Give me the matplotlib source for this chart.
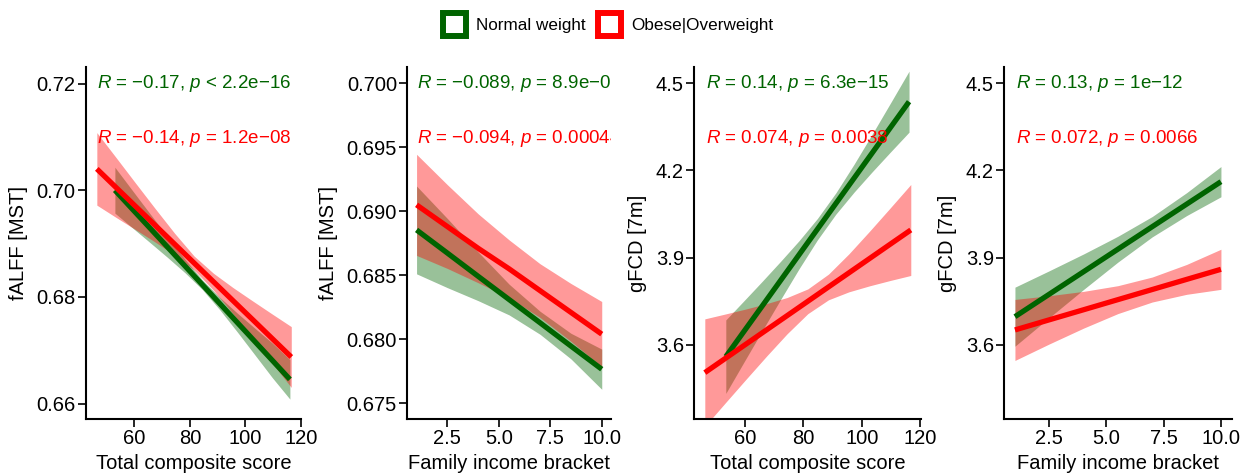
import matplotlib
matplotlib.use('Agg')
from matplotlib import pyplot as plt
from matplotlib.patches import Patch

plt.rcParams['font.family'] = ['Liberation Sans', 'DejaVu Sans']
plt.rcParams['mathtext.fontset'] = 'custom'
plt.rcParams['mathtext.rm'] = 'Liberation Sans'
plt.rcParams['mathtext.it'] = 'Liberation Sans:italic'

GREEN = '#006400'
RED = '#FF0000'

# panel 1: fALFF [MST] vs total composite score
p1_nw_x = [53.0, 59.3, 65.6, 71.9, 78.2, 84.5, 90.8, 97.1, 103.4, 109.7, 116.0]
p1_nw_fit = [0.7000, 0.69645, 0.69291, 0.68936, 0.68581, 0.68227, 0.67872, 0.67517, 0.67162, 0.66808, 0.66453]
p1_nw_lo = [0.6957, 0.69295, 0.6902, 0.68742, 0.68454, 0.68137, 0.67756, 0.6734, 0.66912, 0.66483, 0.66083]
p1_nw_hi = [0.7043, 0.69995, 0.69562, 0.6913, 0.68708, 0.68317, 0.67988, 0.67694, 0.67412, 0.67133, 0.66823]
p1_ob_x = [46.5, 53.5, 60.5, 67.5, 74.5, 81.5, 88.5, 95.5, 102.5, 109.5, 116.5]
p1_ob_fit = [0.7040, 0.70047, 0.69694, 0.69342, 0.68989, 0.68636, 0.68283, 0.6793, 0.67578, 0.67225, 0.66872]
p1_ob_lo = [0.6972, 0.69487, 0.69259, 0.69028, 0.68785, 0.68506, 0.68124, 0.67685, 0.67229, 0.66767, 0.66302]
p1_ob_hi = [0.7108, 0.70607, 0.70129, 0.69656, 0.69193, 0.68766, 0.68442, 0.68175, 0.67927, 0.67683, 0.67442]

# panel 2: fALFF [MST] vs family income bracket
p2_nw_x = [1.0, 2.5, 4.0, 5.5, 7.0, 8.5, 10.0]
p2_nw_fit = [0.68854, 0.68673, 0.68491, 0.68310, 0.68129, 0.67947, 0.67766]
p2_nw_lo = [0.68511, 0.68403, 0.68301, 0.68190, 0.68039, 0.67847, 0.67609]
p2_nw_hi = [0.69197, 0.68943, 0.68681, 0.68430, 0.68219, 0.68047, 0.67923]
p2_ob_x = [1.0, 2.5, 4.0, 5.5, 7.0, 8.5, 10.0]
p2_ob_fit = [0.6905, 0.6888, 0.6871, 0.6855, 0.6838, 0.6821, 0.6804]
p2_ob_lo = [0.68655, 0.68553, 0.68441, 0.68324, 0.68170, 0.67984, 0.67785]
p2_ob_hi = [0.69445, 0.69207, 0.68979, 0.68776, 0.68590, 0.68436, 0.68295]

# panel 3: gFCD [7m] vs total composite score
p3_nw_x = [53.4, 59.7, 65.96, 72.2, 78.5, 84.8, 91.1, 97.4, 103.6, 109.9, 116.2]
p3_nw_fit = [3.5595, 3.6475, 3.7349, 3.8221, 3.9101, 3.9981, 4.0861, 4.1741, 4.2607, 4.3487, 4.4367]
p3_nw_lo = [3.4332, 3.5423, 3.6502, 3.7565, 3.8618, 3.9613, 4.0495, 4.1260, 4.1958, 4.2643, 4.3318]
p3_nw_hi = [3.6858, 3.7527, 3.8196, 3.8877, 3.9584, 4.0349, 4.1227, 4.2222, 4.3256, 4.4331, 4.5416]
p3_ob_x = [46.2, 53.3, 60.3, 67.4, 74.4, 81.5, 88.6, 95.6, 102.7, 109.7, 116.8]
p3_ob_fit = [3.5045, 3.5539, 3.6025, 3.6519, 3.7005, 3.7499, 3.7993, 3.8479, 3.8973, 3.9460, 3.9953]
p3_ob_lo = [3.3195, 3.4014, 3.4815, 3.5617, 3.6381, 3.7073, 3.7551, 3.7825, 3.8032, 3.8214, 3.8388]
p3_ob_hi = [3.6895, 3.7064, 3.7235, 3.7421, 3.7629, 3.7925, 3.8435, 3.9133, 3.9914, 4.0706, 4.1518]

# panel 4: gFCD [7m] vs family income bracket
p4_nw_x = [1.0, 2.5, 4.0, 5.5, 7.0, 8.5, 10.0]
p4_nw_fit = [3.6970, 3.7744, 3.8518, 3.9293, 4.0067, 4.0841, 4.1615]
p4_nw_lo = [3.5955, 3.6938, 3.7908, 3.8849, 3.9717, 4.0447, 4.1095]
p4_nw_hi = [3.7985, 3.8550, 3.9128, 3.9737, 4.0417, 4.1235, 4.2135]
p4_ob_x = [1.0, 2.5, 4.0, 5.5, 7.0, 8.5, 10.0]
p4_ob_fit = [3.6514, 3.6862, 3.7209, 3.7557, 3.7905, 3.8253, 3.8600]
p4_ob_lo = [3.5464, 3.6032, 3.6577, 3.7077, 3.7475, 3.7739, 3.7910]
p4_ob_hi = [3.7564, 3.7692, 3.7841, 3.8037, 3.8335, 3.8767, 3.9290]

# correlation labels (R, p) per panel: normal weight, obese|overweight
p1_stats = [('−0.17', '<', '2.2e−16'), ('−0.14', '=', '1.2e−08')]
p2_stats = [('−0.089', '=', '8.9e−07'), ('−0.094', '=', '0.00044')]
p3_stats = [('0.14', '=', '6.3e−15'), ('0.074', '=', '0.0038')]
p4_stats = [('0.13', '=', '1e−12'), ('0.072', '=', '0.0066')]

ylabels = ['fALFF [MST]', 'fALFF [MST]', 'gFCD [7m]', 'gFCD [7m]']
xlabels = ['Total composite score', 'Family income bracket',
           'Total composite score', 'Family income bracket']
score_ticks = [60, 80, 100, 120]
income_ticks = [2.5, 5.0, 7.5, 10.0]
falff_ticks_1 = [0.66, 0.68, 0.70, 0.72]
falff_ticks_2 = [0.675, 0.680, 0.685, 0.690, 0.695, 0.700]
gfcd_ticks = [3.6, 3.9, 4.2, 4.5]

W, H = 1253, 473
fig = plt.figure(figsize=(W / 100, H / 100), dpi=100)


def add_panel(left, right, top=67, bottom=419):
    return fig.add_axes([left / W, (H - bottom) / H, (right - left) / W, (bottom - top) / H])


def draw_smooth(ax, x, fit, lo, hi, color):
    ax.fill_between(x, lo, hi, color=color, alpha=0.4, linewidth=0)
    ax.plot(x, fit, color=color, linewidth=3.8, solid_capstyle='butt')


def style_panel(ax, xlabel, ylabel, xticks, yticks, xfmt, yfmt, xlim, ylim):
    for side in ['top', 'right']:
        ax.spines[side].set_visible(False)
    for side in ['left', 'bottom']:
        ax.spines[side].set_linewidth(1.5)
    ax.set_xticks(xticks)
    ax.set_xticklabels([xfmt.format(t) for t in xticks])
    ax.set_yticks(yticks)
    ax.set_yticklabels([yfmt.format(t) for t in yticks])
    ax.tick_params(length=5.5, width=1.2, labelsize=14.5, pad=2, colors='black')
    ax.set_xlim(*xlim)
    ax.set_ylim(*ylim)
    ax.set_xlabel(xlabel, fontsize=14.5, labelpad=4)
    ax.set_ylabel(ylabel, fontsize=14.5, labelpad=6)


def add_stats(ax, stats):
    for (r, op, p), color, y in zip(stats, [GREEN, RED], [0.954, 0.798]):
        label = r'$R$ = ' + r + r', $p$ ' + op + ' ' + p
        ax.text(0.05, y, label, transform=ax.transAxes, color=color, fontsize=13.5,
                va='center', ha='left', clip_on=True)


ax1 = add_panel(86, 301)
draw_smooth(ax1, p1_nw_x, p1_nw_fit, p1_nw_lo, p1_nw_hi, GREEN)
draw_smooth(ax1, p1_ob_x, p1_ob_fit, p1_ob_lo, p1_ob_hi, RED)
style_panel(ax1, xlabels[0], ylabels[0], score_ticks, falff_ticks_1, '{:g}', '{:.2f}',
            (42.6, 120.0), (0.6571, 0.7231))
add_stats(ax1, p1_stats)

ax2 = add_panel(407.3, 611)
draw_smooth(ax2, p2_nw_x, p2_nw_fit, p2_nw_lo, p2_nw_hi, GREEN)
draw_smooth(ax2, p2_ob_x, p2_ob_fit, p2_ob_lo, p2_ob_hi, RED)
style_panel(ax2, xlabels[1], ylabels[1], income_ticks, falff_ticks_2, '{:.1f}', '{:.3f}',
            (0.55, 10.45), (0.67377, 0.70127))
add_stats(ax2, p2_stats)

ax3 = add_panel(694.3, 921)
draw_smooth(ax3, p3_nw_x, p3_nw_fit, p3_nw_lo, p3_nw_hi, GREEN)
draw_smooth(ax3, p3_ob_x, p3_ob_fit, p3_ob_lo, p3_ob_hi, RED)
style_panel(ax3, xlabels[2], ylabels[2], score_ticks, gfcd_ticks, '{:g}', '{:.1f}',
            (42.6, 120.3), (3.345, 4.556))
add_stats(ax3, p3_stats)

ax4 = add_panel(1004.3, 1231.7)
draw_smooth(ax4, p4_nw_x, p4_nw_fit, p4_nw_lo, p4_nw_hi, GREEN)
draw_smooth(ax4, p4_ob_x, p4_ob_fit, p4_ob_lo, p4_ob_hi, RED)
style_panel(ax4, xlabels[3], ylabels[3], income_ticks, gfcd_ticks, '{:.1f}', '{:.1f}',
            (0.535, 10.47), (3.345, 4.556))
add_stats(ax4, p4_stats)

handles = [Patch(facecolor='white', edgecolor=GREEN, linewidth=4.3, label='Normal weight'),
           Patch(facecolor='white', edgecolor=RED, linewidth=4.3, label='Obese|Overweight')]
fig.legend(handles=handles, loc='center', bbox_to_anchor=(0.4853, 0.949), ncol=2,
           frameon=False, fontsize=12.3, handlelength=1.35, handleheight=1.69,
           handletextpad=0.6, columnspacing=0.7)

fig.savefig('out.png', dpi=100)
